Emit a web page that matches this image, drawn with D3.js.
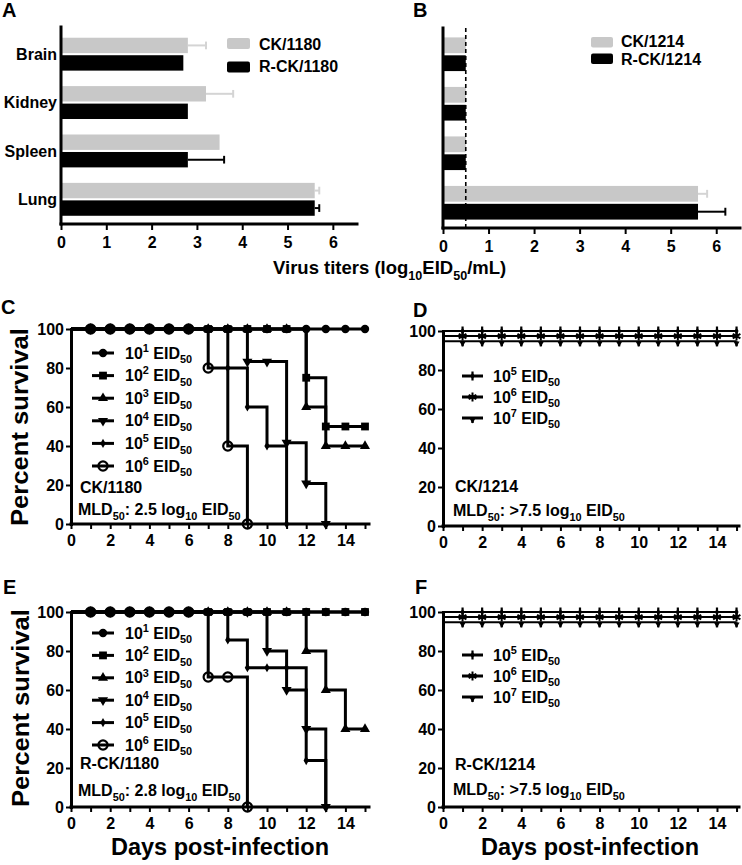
<!DOCTYPE html>
<html>
<head>
<meta charset="utf-8">
<script src="https://cdn.jsdelivr.net/npm/d3@7"></script>
<style>
  body { margin: 0; background: #fff; }
  svg text { font-family: "Liberation Sans", Arial, sans-serif; font-weight: bold; fill: #000; white-space: pre; }
</style>
</head>
<body>
<svg id="fig" width="742" height="865"></svg>
<script>
// ---- data: virus titers (log10 EID50/mL) ----
const organs = ["Brain", "Kidney", "Spleen", "Lung"];
const ck1180 = [2.8, 3.2, 3.5, 5.6];
const ck1180Err = [3.2, 3.8, 3.5, 5.7];
const rck1180 = [2.7, 2.8, 2.8, 5.6];
const rck1180Err = [2.7, 2.8, 3.6, 5.7];
const ck1214 = [0.5, 0.5, 0.5, 5.6];
const ck1214Err = [0.5, 0.5, 0.5, 5.8];
const rck1214 = [0.5, 0.5, 0.5, 5.6];
const rck1214Err = [0.5, 0.5, 0.5, 6.2];
const detectionLimit = 0.5;
const titerTicks = [0, 1, 2, 3, 4, 5, 6];

// ---- data: percent survival by day (day 0..15) ----
const days = d3.range(0, 16);
const survTicks = [0, 20, 40, 60, 80, 100];
const c_e1 = [100,100,100,100,100,100,100,100,100,100,100,100,100,100,100,100];
const c_e2 = [100,100,100,100,100,100,100,100,100,100,100,100,75,50,50,50];
const c_e3 = [100,100,100,100,100,100,100,100,100,100,100,100,60,40,40,40];
const c_e4 = [100,100,100,100,100,100,100,100,100,83.3,83.3,41.7,20.8,0];
const c_e5 = [100,100,100,100,100,100,100,100,80,60,40,0];
const c_e6 = [100,100,100,100,100,100,100,80,40,0];

const e_e1 = [100,100,100,100,100,100,100,100,100,100,100,100,100,100,100,100];
const e_e2 = [100,100,100,100,100,100,100,100,100,100,100,100,100,100,100,100];
const e_e3 = [100,100,100,100,100,100,100,100,100,100,100,100,80,60,40,40];
const e_e4 = [100,100,100,100,100,100,100,100,100,100,80,60,40,0];
const e_e5 = [100,100,100,100,100,100,100,100,85.7,71.4,71.4,71.4,23.8,0];
const e_e6 = [100,100,100,100,100,100,100,66.7,66.7,0];

const d_e5 = [100,100,100,100,100,100,100,100,100,100,100,100,100,100,100,100];
const d_e6 = [100,100,100,100,100,100,100,100,100,100,100,100,100,100,100,100];
const d_e7 = [100,100,100,100,100,100,100,100,100,100,100,100,100,100,100,100];
const f_e5 = [100,100,100,100,100,100,100,100,100,100,100,100,100,100,100,100];
const f_e6 = [100,100,100,100,100,100,100,100,100,100,100,100,100,100,100,100];
const f_e7 = [100,100,100,100,100,100,100,100,100,100,100,100,100,100,100,100];

const doseLow = ["1", "2", "3", "4", "5", "6"];
const doseHigh = ["5", "6", "7"];

const svg = d3.select("#fig");
const GRAY = "#c8c8c8";

// text with super/subscripts: parts = [[str, "n"|"sup"|"sub"], ...]
function richText(g, x, y, parts, size, anchor = "start") {
  const t = g.append("text").attr("x", x).attr("y", y)
    .attr("text-anchor", anchor).style("font-size", size + "px");
  let shift = 0;
  parts.forEach(([s, k]) => {
    const target = k === "sup" ? -size * 0.42 : k === "sub" ? size * 0.3 : 0;
    t.append("tspan").attr("dy", target - shift)
      .style("font-size", (k === "n" ? size : size * 0.68) + "px").text(s);
    shift = target;
  });
  return t;
}

function styleAxis(g, w, fs) {
  g.select(".domain").attr("stroke-width", w).attr("stroke-linecap", "square");
  g.selectAll(".tick line").attr("stroke-width", 2);
  g.selectAll(".tick text").style("font-size", fs + "px");
}

// ---------- bar panels ----------
function barPanel(o) {
  const g = svg.append("g");
  const x = d3.scaleLinear().domain([0, 6.5]).range(o.xr);
  const y = d3.scaleBand().domain(organs).range(o.yr).paddingInner(0.32).paddingOuter(0.17);
  const sub = d3.scaleBand().domain(["ck", "rck"]).range([0, y.bandwidth()]).paddingInner(0.12);

  const rows = organs.map((k, i) => ({ k, ck: o.ck[i], ckE: o.ckE[i], rck: o.rck[i], rckE: o.rckE[i] }));
  [["ck", GRAY, "#d4d4d4"], ["rck", "#000", "#000"]].forEach(([s, fill, ec]) => {
    g.selectAll(null).data(rows).join("line")
      .attr("x1", d => x(d[s])).attr("x2", d => x(d[s + "E"]))
      .attr("y1", d => y(d.k) + sub(s) + sub.bandwidth() / 2)
      .attr("y2", d => y(d.k) + sub(s) + sub.bandwidth() / 2)
      .attr("stroke", ec).attr("stroke-width", 2);
    g.selectAll(null).data(rows.filter(d => d[s + "E"] > d[s])).join("line")
      .attr("x1", d => x(d[s + "E"])).attr("x2", d => x(d[s + "E"]))
      .attr("y1", d => y(d.k) + sub(s) + sub.bandwidth() * 0.25)
      .attr("y2", d => y(d.k) + sub(s) + sub.bandwidth() * 0.75)
      .attr("stroke", ec).attr("stroke-width", 2);
    g.selectAll(null).data(rows).join("rect")
      .attr("x", x(0)).attr("y", d => y(d.k) + sub(s))
      .attr("width", d => x(d[s]) - x(0)).attr("height", sub.bandwidth())
      .attr("fill", fill);
  });

  if (o.dashed) {
    g.append("line").attr("x1", x(detectionLimit)).attr("x2", x(detectionLimit))
      .attr("y1", o.yTop).attr("y2", o.yr[1])
      .attr("stroke", "#000").attr("stroke-width", 1.6).attr("stroke-dasharray", "4,3");
  }

  const ax = g.append("g").attr("transform", `translate(0,${o.yr[1]})`)
    .call(d3.axisBottom(x).tickValues(titerTicks).tickFormat(d3.format("d"))
      .tickSize(6).tickSizeOuter(0).tickPadding(7));
  styleAxis(ax, 3, 16);
  ax.select(".domain").attr("d", `M${x(0)},0H${o.xEnd}`);

  g.append("line").attr("x1", x(0)).attr("x2", x(0)).attr("y1", o.yTop).attr("y2", o.yr[1])
    .attr("stroke", "#000").attr("stroke-width", 3).attr("stroke-linecap", "square");

  if (o.labels) {
    g.selectAll(null).data(organs).join("text")
      .attr("x", x(0) - 4).attr("y", d => y(d) + y.bandwidth() / 2).attr("dy", "0.36em")
      .attr("text-anchor", "end").style("font-size", "16px").text(d => d);
  }

  const L = o.legend;
  [[GRAY, L.names[0], L.y1, L.t1], ["#000", L.names[1], L.y2, L.t2]].forEach(([c, n, yy, ty]) => {
    g.append("rect").attr("x", L.x).attr("y", yy).attr("width", L.w).attr("height", L.h)
      .attr("rx", 2).attr("fill", c);
    g.append("text").attr("x", L.tx).attr("y", ty).style("font-size", "16px").text(n);
  });
}

barPanel({ xr: [61, 355.5], xEnd: 357, yr: [29.5, 224], yTop: 27, ck: ck1180, ckE: ck1180Err,
  rck: rck1180, rckE: rck1180Err, labels: true, dashed: false,
  legend: { x: 227, w: 23, h: 11, y1: 38, y2: 61.5, tx: 259, t1: 50, t2: 72, names: ["CK/1180", "R-CK/1180"] } });
barPanel({ xr: [443, 739], xEnd: 740, yr: [29, 228], yTop: 28, ck: ck1214, ckE: ck1214Err,
  rck: rck1214, rckE: rck1214Err, labels: false, dashed: true,
  legend: { x: 591, w: 22, h: 10.5, y1: 37, y2: 53.5, tx: 621, t1: 47, t2: 64.5, names: ["CK/1214", "R-CK/1214"] } });

richText(svg, 273, 274, [["Virus titers (log", "n"], ["10", "sub"], ["EID", "n"], ["50", "sub"], ["/mL)", "n"]], 18.5);

// ---------- survival panels ----------
function drawMarker(g, type, cx, cy) {
  const s = g.append("g").attr("transform", `translate(${cx},${cy})`);
  if (type === "circle") s.append("circle").attr("r", 4.2).attr("fill", "#000");
  else if (type === "square") s.append("rect").attr("x", -3.9).attr("y", -3.9).attr("width", 7.8).attr("height", 7.8).attr("fill", "#000");
  else if (type === "tri") s.append("path").attr("d", d3.symbol(d3.symbolTriangle, 44)()).attr("fill", "#000");
  else if (type === "tridown") s.append("path").attr("d", d3.symbol(d3.symbolTriangle, 44)()).attr("transform", "rotate(180)").attr("fill", "#000");
  else if (type === "diamond") s.append("path").attr("d", d3.symbol(d3.symbolDiamond, 24)()).attr("fill", "#000");
  else if (type === "ocircle") s.append("circle").attr("r", 4.6).attr("fill", "none").attr("stroke", "#000").attr("stroke-width", 2.2);
  else if (type === "plus") {
    s.append("line").attr("y1", -4.5).attr("y2", 4.5).attr("stroke", "#000").attr("stroke-width", 2.2);
    s.append("path").attr("d", d3.symbol(d3.symbolDiamond, 14)()).attr("fill", "#000");
  } else if (type === "star") {
    s.append("path").attr("d", d3.symbol(d3.symbolAsterisk, 55)()).attr("stroke", "#000").attr("stroke-width", 2).attr("fill", "none");
  } else if (type === "tee") {
    s.append("line").attr("y1", 0).attr("y2", 5).attr("stroke", "#000").attr("stroke-width", 2.4);
    s.append("path").attr("d", d3.symbol(d3.symbolTriangle, 16)()).attr("transform", "translate(0,2) rotate(180)").attr("fill", "#000");
  }
}

function survPanel(o) {
  const g = svg.append("g");
  const x = d3.scaleLinear().domain([0, 15]).range([o.x0, o.x0 + 15 * o.dayW]);
  const y = d3.scaleLinear().domain([0, 100]).range([o.y0, o.y100]);

  const ax = g.append("g").attr("transform", `translate(0,${o.y0})`)
    .call(d3.axisBottom(x).tickValues(days).tickSize(5).tickSizeOuter(0).tickPadding(6)
      .tickFormat(d => d % 2 ? "" : d));
  styleAxis(ax, 3, 16);
  ax.select(".domain").attr("d", `M${o.x0},0H${o.xEnd}`);
  const ay = g.append("g").attr("transform", `translate(${o.x0},0)`)
    .call(d3.axisLeft(y).tickValues(survTicks).tickSize(5).tickSizeOuter(0).tickPadding(2));
  styleAxis(ay, 3, 16);

  const line = d3.line().x(d => x(d.day)).y(d => y(d.v)).curve(d3.curveStepAfter);
  o.series.forEach((s, si) => {
    const off = o.offsets ? o.offsets[si] : 0;
    const pts = s.values.map((v, i) => ({ day: days[i], v: v - off }));
    g.append("path").attr("d", line(pts)).attr("fill", "none").attr("stroke", "#000")
      .attr("stroke-width", o.lw).attr("stroke-linejoin", "miter");
    pts.filter(p => p.day > 0).forEach(p => drawMarker(g, s.marker, x(p.day), y(p.v)));
  });

  o.series.forEach((s, i) => {
    const cy = o.leg.y + i * o.leg.dy;
    g.append("line").attr("x1", o.leg.x1).attr("x2", o.leg.x2).attr("y1", cy).attr("y2", cy)
      .attr("stroke", "#000").attr("stroke-width", 3);
    drawMarker(g, s.marker, (o.leg.x1 + o.leg.x2) / 2, cy);
    richText(g, o.leg.tx, cy + 5.5, [["10", "n"], [s.dose, "sup"], [" EID", "n"], ["50", "sub"]], 16);
  });

  richText(g, o.note.x, o.note.y1, [[o.note.strain, "n"]], 16);
  richText(g, o.note.x - 2, o.note.y2, [["MLD", "n"], ["50", "sub"], [": " + o.note.mld + " log", "n"], ["10", "sub"], [" EID", "n"], ["50", "sub"]], 16);

  svg.append("text").attr("x", o.letter[0]).attr("y", o.letter[1]).style("font-size", "20px").text(o.letter[2]);
  if (o.ylabel) {
    svg.append("text").attr("transform", `translate(${o.ylabel[0]},${o.ylabel[1]}) rotate(-90)`)
      .attr("text-anchor", "middle").style("font-size", "23px")
      .attr("textLength", 198).attr("lengthAdjust", "spacingAndGlyphs").text("Percent survival");
  }
  if (o.xlabel) {
    svg.append("text").attr("x", o.xlabel[0]).attr("y", o.xlabel[1]).attr("text-anchor", "middle")
      .style("font-size", "23.5px").text("Days post-infection");
  }
}

const lowMarkers = ["circle", "square", "tri", "tridown", "diamond", "ocircle"];
const highMarkers = ["plus", "star", "tee"];
const mk = (arrs, doses, markers) => arrs.map((v, i) => ({ values: v, dose: doses[i], marker: markers[i] }));

survPanel({ x0: 71, dayW: 19.6, xEnd: 369, y0: 524, y100: 329, lw: 3,
  series: mk([c_e1, c_e2, c_e3, c_e4, c_e5, c_e6], doseLow, lowMarkers),
  leg: { x1: 92, x2: 114, tx: 125, y: 353, dy: 22.6 },
  note: { x: 80, y1: 493, y2: 515, strain: "CK/1180", mld: "2.5" },
  letter: [1, 314, "C"], ylabel: [28, 427] });
survPanel({ x0: 443, dayW: 19.57, xEnd: 739, y0: 526, y100: 331, lw: 2, offsets: [0, 2.6, 5.3],
  series: mk([d_e5, d_e6, d_e7], doseHigh, highMarkers),
  leg: { x1: 462, x2: 483, tx: 493, y: 376, dy: 21 },
  note: { x: 455, y1: 492, y2: 516, strain: "CK/1214", mld: ">7.5" },
  letter: [413, 317, "D"] });
survPanel({ x0: 71, dayW: 19.6, xEnd: 369, y0: 807, y100: 612, lw: 3,
  series: mk([e_e1, e_e2, e_e3, e_e4, e_e5, e_e6], doseLow, lowMarkers),
  leg: { x1: 92, x2: 114, tx: 125, y: 633, dy: 22.4 },
  note: { x: 80, y1: 769, y2: 796, strain: "R-CK/1180", mld: "2.8" },
  letter: [3, 594, "E"], ylabel: [29, 708], xlabel: [220, 855] });
survPanel({ x0: 443, dayW: 19.57, xEnd: 739, y0: 807, y100: 612, lw: 2, offsets: [0, 2.6, 5.3],
  series: mk([f_e5, f_e6, f_e7], doseHigh, highMarkers),
  leg: { x1: 462, x2: 483, tx: 493, y: 655, dy: 21 },
  note: { x: 455, y1: 770, y2: 795, strain: "R-CK/1214", mld: ">7.5" },
  letter: [415, 594, "F"], xlabel: [590, 855] });

svg.append("text").attr("x", 2).attr("y", 17).style("font-size", "20px").text("A");
svg.append("text").attr("x", 413).attr("y", 17).style("font-size", "20px").text("B");
</script>
</body>
</html>
